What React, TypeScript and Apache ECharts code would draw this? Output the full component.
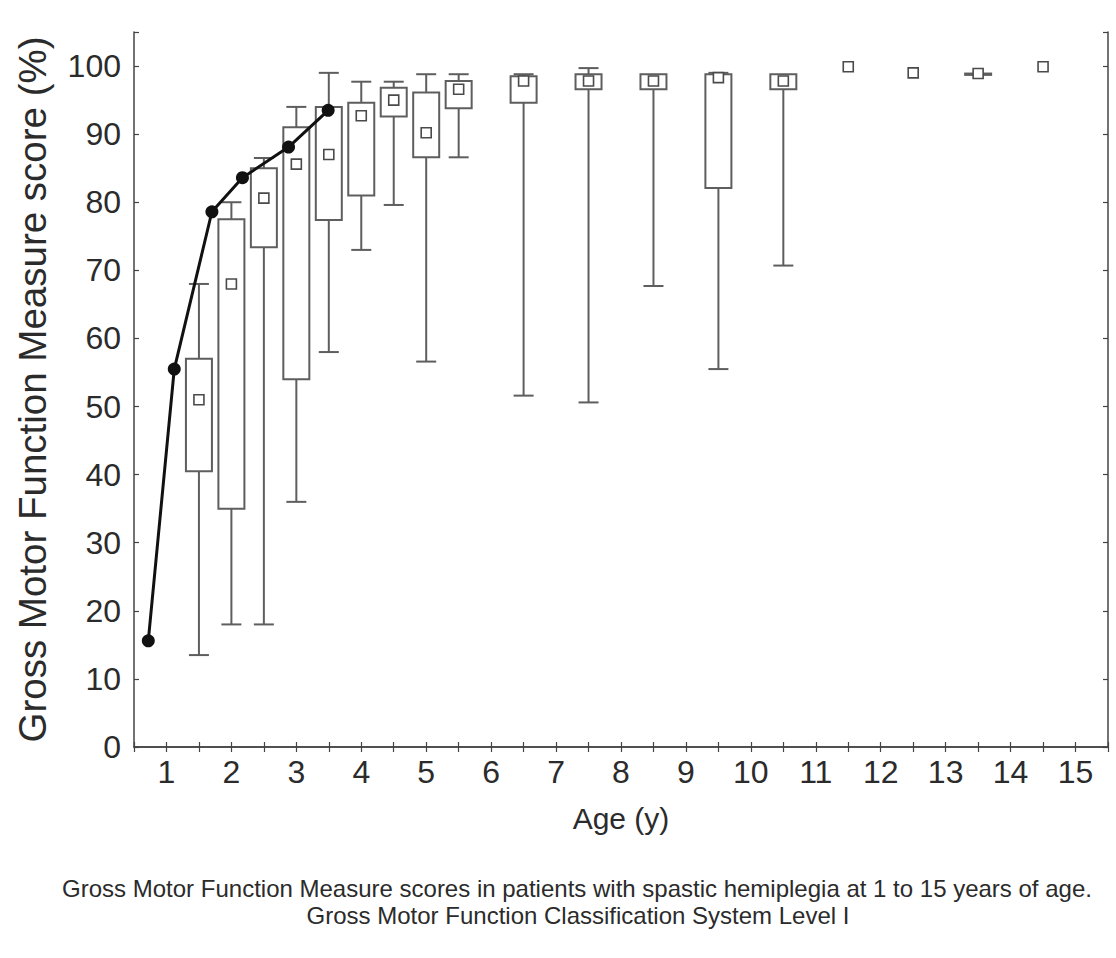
import React, { useEffect, useRef } from "react";
import * as echarts from "echarts";

// ---- Data ----
const boxAges = [1.5, 2, 2.5, 3, 3.5, 4, 4.5, 5, 5.5, 6.5, 7.5, 8.5, 9.5, 10.5, 11.5, 12.5, 13.5, 14.5];
const boxMin = [13.5, 18, 18, 36, 58, 73, 79.6, 56.6, 86.6, 51.6, 50.6, 67.7, 55.5, 70.7, 99.9, 99, 98.8, 99.9];
const boxQ1 = [40.5, 35, 73.4, 54, 77.4, 81, 92.6, 86.6, 93.8, 94.6, 96.6, 96.6, 82.1, 96.6, 99.9, 99, 98.7, 99.9];
const boxMedian = [51, 68, 80.6, 85.6, 87, 92.7, 95, 90.2, 96.6, 97.8, 97.8, 97.8, 98.3, 97.8, 99.9, 99, 98.9, 99.9];
const boxQ3 = [57, 77.5, 85, 91, 94, 94.6, 96.8, 96.1, 97.8, 98.5, 98.8, 98.8, 98.8, 98.8, 99.9, 99, 98.9, 99.9];
const boxMax = [68, 80, 86.5, 94, 99, 97.7, 97.7, 98.8, 98.8, 98.8, 99.7, 98.8, 99, 98.8, 99.9, 99, 98.8, 99.9];

const refAges = [0.72, 1.12, 1.7, 2.17, 2.88, 3.49];
const refScores = [15.6, 55.5, 78.6, 83.6, 88.1, 93.5];

const xLabels = ["1", "2", "3", "4", "5", "6", "7", "8", "9", "10", "11", "12", "13", "14", "15"];
const yLabels = ["0", "10", "20", "30", "40", "50", "60", "70", "80", "90", "100"];

const yTitle = "Gross Motor Function Measure score (%)";
const xTitle = "Age (y)";
const captionLines = [
  "Gross Motor Function Measure scores in patients with spastic hemiplegia at 1 to 15 years of age.",
  "Gross Motor Function Classification System Level I",
];

const FONT = "'Liberation Sans', Arial, Helvetica, sans-serif";
const TEXT = "#2b2b2b";
const AXIS = "#444";

export default function App() {
  const ref = useRef<HTMLDivElement>(null);

  useEffect(() => {
    if (!ref.current) return;
    const chart = echarts.init(ref.current, undefined, { renderer: "svg" });

    const boxData = boxAges.map((a, i) => [a, boxMin[i], boxQ1[i], boxMedian[i], boxQ3[i], boxMax[i]]);
    const refData = refAges.map((a, i) => [a, refScores[i]]);

    const boxStroke = "#5e5e5e";
    const halfBox = 13;
    const halfCap = 10;
    const sq = 10;

    const renderItem = (params: any, api: any) => {
      const x = api.value(0);
      const mn = api.value(1);
      const q1 = api.value(2);
      const md = api.value(3);
      const q3 = api.value(4);
      const mx = api.value(5);
      const pMin = api.coord([x, mn]);
      const pQ1 = api.coord([x, q1]);
      const pMd = api.coord([x, md]);
      const pQ3 = api.coord([x, q3]);
      const pMax = api.coord([x, mx]);
      const cx = pMd[0];
      const children: any[] = [];
      const lineStyle = { stroke: boxStroke, lineWidth: 2 };
      if (mx > q3) {
        children.push({ type: "line", shape: { x1: cx, y1: pQ3[1], x2: cx, y2: pMax[1] }, style: lineStyle });
        children.push({ type: "line", shape: { x1: cx - halfCap, y1: pMax[1], x2: cx + halfCap, y2: pMax[1] }, style: lineStyle });
      }
      if (mn < q1) {
        children.push({ type: "line", shape: { x1: cx, y1: pQ1[1], x2: cx, y2: pMin[1] }, style: lineStyle });
        children.push({ type: "line", shape: { x1: cx - halfCap, y1: pMin[1], x2: cx + halfCap, y2: pMin[1] }, style: lineStyle });
      }
      if (q3 > q1) {
        children.push({
          type: "rect",
          shape: { x: cx - halfBox, y: pQ3[1], width: halfBox * 2, height: pQ1[1] - pQ3[1] },
          style: { fill: "none", stroke: boxStroke, lineWidth: 2 },
        });
      }
      children.push({
        type: "rect",
        shape: { x: cx - sq / 2, y: pMd[1] - sq / 2, width: sq, height: sq },
        style: { fill: "#fff", stroke: "#4a4a4a", lineWidth: 1.6 },
      });
      return { type: "group", children };
    };

    const intLabel = (v: number) => {
      const idx = xLabels.indexOf(String(v));
      return idx >= 0 ? xLabels[idx] : "";
    };
    const yLabel = (v: number) => {
      const idx = yLabels.indexOf(String(v));
      return idx >= 0 ? yLabels[idx] : "";
    };

    const tick = { show: true, inside: true, length: 5, lineStyle: { color: AXIS, width: 1.2 } };
    const line = { show: true, lineStyle: { color: AXIS, width: 1.5 } };

    const option: any = {
      animation: false,
      textStyle: { fontFamily: FONT },
      graphic: [
        {
          type: "text",
          x: 577,
          y: 888,
          style: {
            text: captionLines[0],
            fontSize: 24,
            fontFamily: FONT,
            fill: TEXT,
            align: "center",
            verticalAlign: "middle",
          },
        },
        {
          type: "text",
          x: 578,
          y: 915,
          style: {
            text: captionLines[1],
            fontSize: 24,
            fontFamily: FONT,
            fill: TEXT,
            align: "center",
            verticalAlign: "middle",
          },
        },
      ],
      grid: { left: 134, right: 8, top: 32, bottom: 211, outerBoundsMode: "none" },
      xAxis: [
        {
          type: "value",
          position: "bottom",
          min: 0.5,
          max: 15.5,
          interval: 0.5,
          splitLine: { show: false },
          axisLine: line,
          axisTick: tick,
          axisLabel: {
            formatter: intLabel,
            fontSize: 32,
            color: TEXT,
            margin: 9,
            fontFamily: FONT,
          },
          name: xTitle,
          nameLocation: "middle",
          nameGap: 56,
          nameTextStyle: { fontSize: 30, color: TEXT, fontFamily: FONT },
        },
        {
          type: "value",
          position: "top",
          min: 0.5,
          max: 15.5,
          interval: 0.5,
          splitLine: { show: false },
          axisLine: line,
          axisTick: tick,
          axisLabel: { show: false },
        },
      ],
      yAxis: [
        {
          type: "value",
          position: "left",
          min: 0,
          max: 105,
          interval: 10,
          splitLine: { show: false },
          axisLine: line,
          axisTick: tick,
          axisLabel: { formatter: yLabel, fontSize: 32, color: TEXT, margin: 13, fontFamily: FONT },
          name: yTitle,
          nameLocation: "middle",
          nameRotate: 90,
          nameGap: 82,
          nameTextStyle: { fontSize: 38.5, color: TEXT, fontFamily: FONT },
        },
        {
          type: "value",
          position: "right",
          min: 0,
          max: 105,
          interval: 10,
          splitLine: { show: false },
          axisLine: line,
          axisTick: tick,
          axisLabel: { show: false },
        },
      ],
      series: [
        {
          type: "custom",
          xAxisIndex: 0,
          yAxisIndex: 0,
          renderItem,
          data: boxData,
          z: 2,
        },
        {
          type: "line",
          xAxisIndex: 0,
          yAxisIndex: 0,
          data: refData,
          symbol: "circle",
          symbolSize: 13,
          lineStyle: { color: "#111", width: 3 },
          itemStyle: { color: "#111" },
          z: 5,
        },
      ],
    };

    chart.setOption(option);
    return () => chart.dispose();
  }, []);

  return (
    <div
      ref={ref}
      style={{ position: "absolute", left: 0, top: 0, width: 1116, height: 958, background: "#fff" }}
    />
  );
}
